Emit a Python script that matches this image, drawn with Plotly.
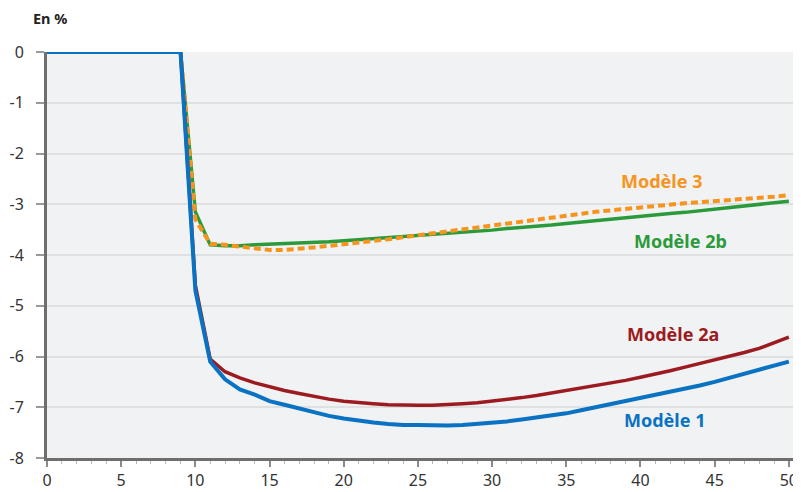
import plotly.graph_objects as go

years = list(range(0, 51))
pre = [0.0] * 10  # years 0..9

modele1 = pre + [-4.70, -6.10, -6.45, -6.65, -6.75, -6.88, -6.95, -7.03, -7.10, -7.17,
                 -7.22, -7.27, -7.30, -7.33, -7.35, -7.35, -7.36, -7.36, -7.35, -7.33,
                 -7.31, -7.28, -7.24, -7.20, -7.16, -7.12, -7.06, -7.00, -6.94, -6.88,
                 -6.82, -6.76, -6.70, -6.63, -6.57, -6.50, -6.42, -6.35, -6.27, -6.19, -6.10]
modele2a = pre + [-4.60, -6.05, -6.30, -6.42, -6.52, -6.60, -6.67, -6.73, -6.79, -6.84,
                  -6.88, -6.91, -6.93, -6.95, -6.96, -6.96, -6.96, -6.95, -6.93, -6.91,
                  -6.88, -6.85, -6.81, -6.77, -6.72, -6.68, -6.63, -6.58, -6.52, -6.47,
                  -6.41, -6.35, -6.28, -6.21, -6.14, -6.07, -6.00, -5.92, -5.84, -5.73, -5.62]
modele2b = pre + [-3.15, -3.80, -3.82, -3.82, -3.80, -3.79, -3.78, -3.77, -3.76, -3.74,
                  -3.72, -3.70, -3.68, -3.66, -3.64, -3.62, -3.60, -3.58, -3.56, -3.53,
                  -3.51, -3.48, -3.46, -3.43, -3.41, -3.38, -3.35, -3.33, -3.30, -3.27,
                  -3.24, -3.21, -3.18, -3.16, -3.13, -3.10, -3.07, -3.04, -3.01, -2.98, -2.94]
modele3 = pre + [-3.30, -3.78, -3.80, -3.84, -3.88, -3.90, -3.90, -3.88, -3.85, -3.82,
                 -3.79, -3.76, -3.72, -3.69, -3.65, -3.61, -3.58, -3.54, -3.50, -3.46,
                 -3.42, -3.38, -3.34, -3.30, -3.26, -3.22, -3.19, -3.15, -3.12, -3.09,
                 -3.06, -3.03, -3.00, -2.98, -2.96, -2.94, -2.92, -2.90, -2.88, -2.85, -2.82]

y_ticks = [0, -1, -2, -3, -4, -5, -6, -7, -8]
y_ticktext = ["0", "-1", "-2", "-3", "-4", "-5", "-6", "-7", "-8"]
x_ticks = [0, 5, 10, 15, 20, 25, 30, 35, 40, 45, 50]

labels = ["Modèle 3", "Modèle 2b", "Modèle 2a", "Modèle 1"]
label_x = [41.4, 42.7, 42.2, 41.6]
label_y = [-2.54, -3.72, -5.56, -7.25]

C_BLUE = "#0a72c2"
C_RED = "#9c1b21"
C_GREEN = "#2b9a3b"
C_ORANGE = "#f7941d"
label_colors = [C_ORANGE, C_GREEN, C_RED, C_BLUE]

fig = go.Figure()
fig.add_trace(go.Scatter(x=years, y=modele2b, mode="lines", name="Modèle 2b",
                         line=dict(color=C_GREEN, width=3.5)))
fig.add_trace(go.Scatter(x=years, y=modele3, mode="lines", name="Modèle 3",
                         line=dict(color=C_ORANGE, width=4, dash="7px,4px")))
fig.add_trace(go.Scatter(x=years, y=modele2a, mode="lines", name="Modèle 2a",
                         line=dict(color=C_RED, width=3.5)))
fig.add_trace(go.Scatter(x=years, y=modele1, mode="lines", name="Modèle 1",
                         line=dict(color=C_BLUE, width=4)))

for t, x, y, c in zip(labels, label_x, label_y, label_colors):
    fig.add_annotation(x=x, y=y, text="<b>%s</b>" % t, showarrow=False,
                       font=dict(color=c, size=18, family="Noto Sans"))

fig.add_annotation(xref="paper", yref="paper", x=-0.021, y=1.0, yshift=34,
                   xanchor="left", yanchor="middle", text="<b>En %</b>", showarrow=False,
                   font=dict(size=14.5, color="#222222", family="Noto Sans"))

# page body has an 8px margin: figure is 793x484 so it fills the 801x492 window
fig.update_layout(
    width=793, height=484,
    margin=dict(l=39, r=4, t=44, b=34, autoexpand=False),
    paper_bgcolor="white",
    plot_bgcolor="#f1f2f4",
    showlegend=False,
    font=dict(family="Noto Sans", size=16, color="#333333"),
)
fig.update_xaxes(range=[0, 50.55], tickvals=x_ticks, ticks="outside", ticklen=6,
                 tickwidth=2, tickcolor="#8a8a8a", showgrid=False, zeroline=False,
                 showline=True, linecolor="#6e6e6e", linewidth=3, automargin=False,
                 minor=dict(dtick=1, ticks="outside", ticklen=3, tickcolor="#b8b8b8", tickwidth=1),
                 tickfont=dict(size=16, color="#333333"))
fig.update_yaxes(range=[-8, 0], tickvals=y_ticks, ticktext=y_ticktext, ticks="outside",
                 ticklen=8, tickwidth=2, tickcolor="#9a9a9a", showgrid=True,
                 gridcolor="#dfe0e2", gridwidth=1.5, zeroline=False,
                 showline=True, linecolor="#6e6e6e", linewidth=3, automargin=False,
                 ticklabelstandoff=9,
                 tickfont=dict(size=16, color="#333333"))

fig.write_html("out.html")
